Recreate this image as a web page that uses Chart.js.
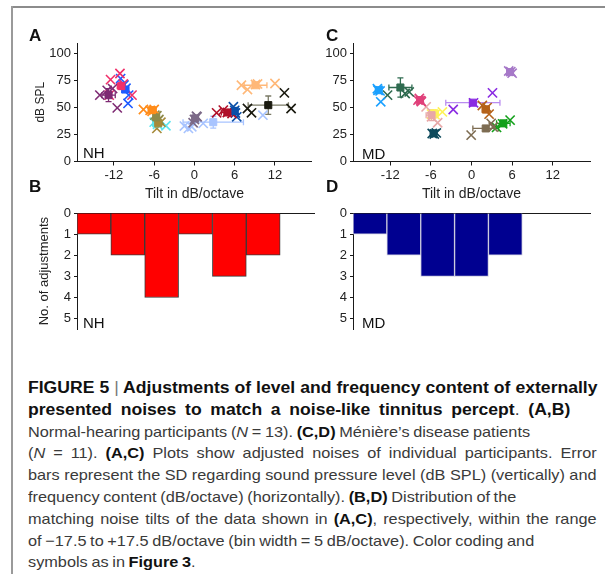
<!DOCTYPE html>
<html>
<head>
<meta charset="utf-8">
<script src="https://cdn.jsdelivr.net/npm/chart.js@4.4.1/dist/chart.umd.min.js"></script>
<style>
  body { margin: 0; background: #fff; }
  #fig { position: relative; width: 605px; height: 574px; overflow: hidden; font-family: "Liberation Sans", Arial, sans-serif; color: #222; }
  .frameTop { position: absolute; left: 12px; top: 6px; width: 593px; height: 2px; background: #8c8c8c; }
  .frameLeft { position: absolute; left: 11px; top: 6px; width: 2px; height: 568px; background: #9a9a9a; }
  canvas { position: absolute; }
  .panel { position: absolute; font-weight: bold; font-size: 17px; line-height: 1; color: #111; }
  .grp { position: absolute; font-size: 15px; line-height: 1; color: #111; }
  .cap { position: absolute; left: 28px; top: 377px; line-height: 21.8px; font-size: 15px; color: #3a3a3a; }
  .cap div { white-space: nowrap; width: max-content; transform-origin: 0 50%; transform: scaleX(1.086); }
  .cap b { color: #111; }
  .cap div.l1 { font-size: 16px; transform: scaleX(1.098); }
  .cap .bar { font-weight: normal; color: #777; }
</style>
</head>
<body>
<div id="fig">
  <div class="frameTop"></div>
  <div class="frameLeft"></div>

  <canvas id="cA" width="300" height="185" style="left:20px;top:20px"></canvas>
  <canvas id="cC" width="300" height="185" style="left:300px;top:20px"></canvas>
  <canvas id="cB" width="300" height="145" style="left:20px;top:195px"></canvas>
  <canvas id="cD" width="300" height="145" style="left:300px;top:195px"></canvas>

  <div class="panel" style="left:29px;top:27px">A</div>
  <div class="panel" style="left:326px;top:27px">C</div>
  <div class="panel" style="left:29px;top:178px">B</div>
  <div class="panel" style="left:326px;top:178px">D</div>

  <div class="grp" style="left:83px;top:145px">NH</div>
  <div class="grp" style="left:362px;top:146px">MD</div>
  <div class="grp" style="left:83px;top:315px">NH</div>
  <div class="grp" style="left:362px;top:315px">MD</div>

  <div class="cap">
    <div class="l1" data-s="1.098"><b>FIGURE 5 <span class="bar">|</span> Adjustments of level and frequency content of externally</b></div>
    <div class="l1" data-s="1.098"><b>presented noises to match a noise-like tinnitus percept</b>. <b>(A,B)</b></div>
    <div data-s="1.086">Normal-hearing participants (<i>N</i> = 13). <b>(C,D)</b> Ménière’s disease patients</div>
    <div data-s="1.086">(<i>N</i> = 11). <b>(A,C)</b> Plots show adjusted noises of individual participants. Error</div>
    <div data-s="1.086">bars represent the SD regarding sound pressure level (dB SPL) (vertically) and</div>
    <div data-s="1.086">frequency content (dB/octave) (horizontally). <b>(B,D)</b> Distribution of the</div>
    <div data-s="1.086">matching noise tilts of the data shown in <b>(A,C)</b>, respectively, within the range</div>
    <div data-s="1.086">of −17.5 to +17.5 dB/octave (bin width = 5 dB/octave). Color coding and</div>
    <div data-s="1.086">symbols as in <b>Figure 3</b>.</div>
  </div>
</div>

<script>
// ticks
const tiltTicks = [-12, -6, 0, 6, 12]
const levelTicks = [0, 25, 50, 75, 100]
const countTicks = [0, 1, 2, 3, 4, 5]

// histogram bins (5 dB/octave wide, -17.5 .. +17.5)
const binCenters = [-15, -10, -5, 0, 5, 10, 15]
const nhCounts = [1, 2, 4, 1, 3, 2, 0]
const mdCounts = [1, 2, 3, 3, 2, 0, 0]

// NH participants (panel A)
const nhColors = ["#7e2a73", "#f0306a", "#1e5bff", "#ff8c1a", "#8c8a4a", "#a68a3a", "#5ce6f0",
  "#7c6a88", "#a8c4ff", "#b0102a", "#0a4fa8", "#ffb878", "#1a1a10"]
const nhTiltTrials = [
  [-14.1, -12.2, -11.5, -13.0],
  [-11.1, -12.5, -12.7, -9.3, -10.6],
  [-11.0, -9.8, -9.9, -10.2, -10.5],
  [-7.6, -6.0, -6.3, -6.6],
  [-5.9, -5.3, -5.6],
  [-5.6, -5.0, -5.4],
  [-4.25, -6.0, -5.5],
  [-0.2, 0.3, 0.0, 0.4],
  [-1.5, -0.9, -0.4, 1.3, 10.2],
  [3.3, 4.3, 5.6, 4.9],
  [6.0, 5.8, 6.3, 6.1],
  [7.0, 7.9, 9.1, 12.0, 9.4],
  [7.9, 8.5, 14.4, 13.4]
]
const nhLevelTrials = [
  [61.6, 67.7, 49.8, 66.0],
  [81.7, 76.0, 61.6, 61.6, 72.0],
  [77.0, 61.6, 53.9, 68.0, 71.0],
  [48.3, 48.3, 46.5, 47.5],
  [43.0, 39.0, 42.5],
  [30.7, 36.5, 38.0],
  [33.2, 36.5, 34.5],
  [36.0, 42.0, 39.0, 41.5],
  [32.9, 30.7, 32.2, 35.4, 43.0],
  [45.2, 47.7, 44.5, 45.5],
  [47.5, 50.8, 41.5, 45.0],
  [70.8, 66.8, 71.5, 72.4, 72.0],
  [49.2, 45.2, 49.2, 63.7]
]
const nhMeanTilt = [-12.8, -10.9, -10.3, -6.3, -5.7, -5.4, -5.7, 0.1, 2.8, 4.9, 6.0, 9.1, 11.0]
const nhMeanLevel = [61.6, 70.0, 66.8, 47.7, 40.9, 35.5, 35.4, 40.0, 36.5, 45.5, 47.0, 70.8, 52.3]
const nhSdTilt = [1.0, 0.6, 0.5, 0.6, 0.4, 0.4, 0.5, 0.3, 4.5, 0.9, 0.3, 1.7, 3.0]
const nhSdLevel = [6.0, 2.0, 2.0, 1.0, 3.0, 2.0, 1.5, 2.0, 5.5, 1.0, 3.0, 2.0, 8.5]

// MD participants (panel C)
const mdColors = ["#1aa0ff", "#2f6b50", "#e0407a", "#e8a8a8", "#fff35a", "#0e4a5c",
  "#8a2be2", "#b5621a", "#7d6c52", "#12a01a", "#a678c8"]
const mdTiltTrials = [
  [-13.4, -13.9, -13.5, -13.8],
  [-12.4, -9.8, -9.2],
  [-7.9, -7.4, -7.7, -7.5],
  [-6.7, -5.9, -5.0],
  [-5.9, -4.3, -5.4],
  [-5.8, -5.2, -5.5],
  [-2.7, 3.1, 0.3],
  [1.6, 2.6, 2.3],
  [-0.05, 2.9, 3.2],
  [3.7, 5.7, 4.6],
  [5.5, 6.0, 5.8]
]
const mdLevelTrials = [
  [55.4, 67.5, 65.5, 66.0],
  [61.6, 63.1, 64.6],
  [57.0, 55.5, 58.5, 56.5],
  [50.7, 41.5, 36.0],
  [44.0, 46.0, 43.5],
  [26.0, 26.5, 25.5],
  [48.3, 63.7, 54.5],
  [52.0, 44.0, 50.0],
  [24.5, 35.4, 32.0],
  [31.6, 38.4, 35.0],
  [84.0, 82.0, 83.5]
]
const mdMeanTilt = [-13.7, -10.5, -7.6, -5.9, -5.5, -5.6, 0.2, 2.1, 2.1, 4.7, 5.7]
const mdMeanLevel = [66.2, 68.7, 57.0, 43.0, 44.8, 26.1, 54.6, 48.3, 30.7, 35.4, 83.0]
const mdSdTilt = [0.3, 1.7, 0.3, 0.8, 0.6, 0.3, 4.0, 0.5, 1.9, 1.0, 0.3]
const mdSdLevel = [1.0, 9.0, 1.0, 5.0, 1.0, 0.5, 1.0, 3.0, 1.0, 2.0, 1.0]

// right edge (px) of each caption line in the figure; nudge word spacing toward it
const captionLineEnds = [597, 597, 453, 597, 597, 488, 597, 529, 192]
document.querySelectorAll(".cap div").forEach((d, i) => {
  const s = parseFloat(d.dataset.s)
  const spaces = d.textContent.split(" ").length - 1
  const need = (captionLineEnds[i] - 28) / s - d.offsetWidth
  const ws = Math.max(-0.8, Math.min(3.5, need / spaces))
  d.style.wordSpacing = ws + "px"
})

Chart.defaults.font.family = '"Liberation Sans", Arial, sans-serif'
Chart.defaults.color = "#222"
Chart.defaults.animation = false

const AXIS = "#1a1a1a"

// lighter colour for error bars of very dark participants
function barColor(c) {
  if (c === "#1a1a10") return "#7a7a66"
  if (c === "#8a2be2") return "#b98cf0"
  return c
}

function errorBars(meanX, meanY, sdX, sdY, colors) {
  return {
    id: "errorBars",
    beforeDatasetsDraw(chart) {
      const { ctx } = chart
      const x = chart.scales.x
      const y = chart.scales.y
      ctx.save()
      ctx.lineWidth = 1.3
      meanX.forEach((mx, i) => {
        const my = meanY[i]
        const px = x.getPixelForValue(mx)
        const py = y.getPixelForValue(my)
        const x0 = x.getPixelForValue(mx - sdX[i])
        const x1 = x.getPixelForValue(mx + sdX[i])
        const y0 = y.getPixelForValue(my - sdY[i])
        const y1 = y.getPixelForValue(my + sdY[i])
        ctx.strokeStyle = barColor(colors[i])
        ctx.beginPath()
        ctx.moveTo(x0, py); ctx.lineTo(x1, py)
        ctx.moveTo(x0, py - 3); ctx.lineTo(x0, py + 3)
        ctx.moveTo(x1, py - 3); ctx.lineTo(x1, py + 3)
        ctx.moveTo(px, y0); ctx.lineTo(px, y1)
        ctx.moveTo(px - 3, y0); ctx.lineTo(px + 3, y0)
        ctx.moveTo(px - 3, y1); ctx.lineTo(px + 3, y1)
        ctx.stroke()
      })
      ctx.restore()
    },
  }
}

function scatterPanel(id, colors, tiltTrials, levelTrials, meanTilt, meanLevel, sdTilt, sdLevel, yWidth, padRight, yTitle) {
  const datasets = []
  colors.forEach((c, i) => {
    datasets.push({
      data: tiltTrials[i].map((t, j) => ({ x: t, y: levelTrials[i][j] })),
      pointStyle: "crossRot",
      pointRadius: 6.5,
      pointBorderWidth: 1.6,
      borderColor: c,
      backgroundColor: c,
      order: 1,
    })
    datasets.push({
      data: [{ x: meanTilt[i], y: meanLevel[i] }],
      pointStyle: "rect",
      pointRadius: 5,
      pointBorderWidth: 1,
      borderColor: c,
      backgroundColor: c,
      order: 0,
    })
  })

  new Chart(document.getElementById(id), {
    type: "scatter",
    data: { datasets },
    plugins: [errorBars(meanTilt, meanLevel, sdTilt, sdLevel, colors)],
    options: {
      responsive: false,
      layout: { padding: { left: 0, right: padRight, top: 23, bottom: 0 } },
      plugins: { legend: { display: false }, tooltip: { enabled: false } },
      scales: {
        x: {
          type: "linear",
          min: -17.5,
          max: 17.5,
          afterBuildTicks: (s) => { s.ticks = tiltTicks.map((v) => ({ value: v })) },
          afterFit: (s) => { s.height = 43.5 },
          grid: { drawOnChartArea: false, tickLength: 4, color: AXIS },
          border: { color: AXIS, width: 1 },
          ticks: { font: { size: 13 }, padding: 2, maxRotation: 0 },
          title: { display: true, text: "Tilt in dB/octave", font: { size: 14 }, padding: { top: 0, bottom: 2 } },
        },
        y: {
          min: 0,
          max: 110,
          afterBuildTicks: (s) => { s.ticks = levelTicks.map((v) => ({ value: v })) },
          afterFit: (s) => { s.width = yWidth },
          grid: { drawOnChartArea: false, tickLength: 3, color: AXIS },
          border: { color: AXIS, width: 1 },
          ticks: { font: { size: 13 }, padding: 3 },
          title: { display: !!yTitle, text: yTitle || "", font: { size: 12 }, padding: { top: 13, bottom: 0 } },
        },
      },
    },
  })
}

function histPanel(id, counts, fill, edge, yWidth, padRight, yTitle) {
  new Chart(document.getElementById(id), {
    type: "bar",
    data: {
      datasets: [{
        data: binCenters.map((c, i) => ({ x: c, y: counts[i] })),
        backgroundColor: fill,
        borderColor: edge,
        borderWidth: 1,
        barPercentage: 1,
        categoryPercentage: 1,
      }],
    },
    options: {
      responsive: false,
      layout: { padding: { left: 0, right: padRight, top: 18, bottom: 9 } },
      plugins: { legend: { display: false }, tooltip: { enabled: false } },
      scales: {
        x: {
          type: "linear",
          position: "top",
          offset: false,
          min: -17.5,
          max: 17.5,
          afterFit: (s) => { s.height = 0 },
          grid: { display: false, offset: false },
          border: { display: true, color: AXIS, width: 1 },
          ticks: { display: false },
        },
        y: {
          min: 0,
          max: 5.5,
          reverse: true,
          afterBuildTicks: (s) => { s.ticks = countTicks.map((v) => ({ value: v })) },
          afterFit: (s) => { s.width = yWidth },
          grid: { drawOnChartArea: false, tickLength: 3, color: AXIS },
          border: { color: AXIS, width: 1 },
          ticks: { font: { size: 13 }, padding: 3 },
          title: { display: !!yTitle, text: yTitle || "", font: { size: 13 }, padding: { top: 17, bottom: 0 } },
        },
      },
    },
  })
}

scatterPanel("cA", nhColors, nhTiltTrials, nhLevelTrials, nhMeanTilt, nhMeanLevel, nhSdTilt, nhSdLevel, 57, 6, "dB SPL")
scatterPanel("cC", mdColors, mdTiltTrials, mdLevelTrials, mdMeanTilt, mdMeanLevel, mdSdTilt, mdSdLevel, 53, 10, "")
histPanel("cB", nhCounts, "#ff0000", "#3a3a3a", 57, 6, "No. of adjustments")
histPanel("cD", mdCounts, "#000090", "#c8c8dc", 53, 10, "")
</script>
</body>
</html>
